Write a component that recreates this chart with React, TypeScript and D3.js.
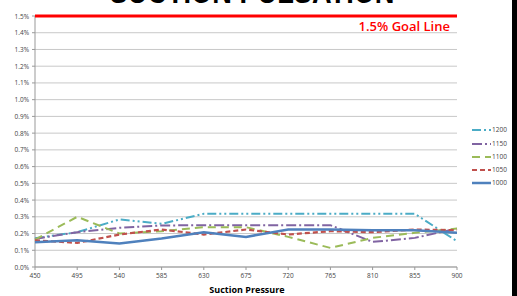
import React from 'react';
import * as d3 from 'd3';

const W = 517;
const H = 296;

const pressures = [450, 495, 540, 585, 630, 675, 720, 765, 810, 855, 900];
const yTicks = [0, 0.1, 0.2, 0.3, 0.4, 0.5, 0.6, 0.7, 0.8, 0.9, 1.0, 1.1, 1.2, 1.3, 1.4, 1.5];
const goalValue = 1.5;

// pulsation % per suction pressure
const s1200 = [0.172, 0.208, 0.284, 0.258, 0.318, 0.318, 0.318, 0.318, 0.318, 0.318, 0.154];
const s1150 = [0.168, 0.208, 0.234, 0.248, 0.25, 0.25, 0.25, 0.25, 0.15, 0.174, 0.23];
const s1100 = [0.164, 0.3, 0.2, 0.214, 0.238, 0.238, 0.18, 0.114, 0.174, 0.204, 0.23];
const s1050 = [0.16, 0.144, 0.194, 0.224, 0.194, 0.224, 0.194, 0.214, 0.208, 0.224, 0.22];
const s1000 = [0.148, 0.16, 0.14, 0.17, 0.208, 0.18, 0.224, 0.224, 0.22, 0.22, 0.204];

const series = [
  { name: '1200', values: s1200, color: '#4BACC6', dash: '9,3,2,3,2,3', width: 2 },
  { name: '1150', values: s1150, color: '#8064A2', dash: '10,3,2,3', width: 2 },
  { name: '1100', values: s1100, color: '#9BBB59', dash: '8,5', width: 2 },
  { name: '1050', values: s1050, color: '#C0504D', dash: '5,3', width: 2.2 },
  { name: '1000', values: s1000, color: '#4F81BD', dash: '', width: 2.5 },
];

const App: React.FC = () => {
  const x = d3.scaleLinear().domain([450, 900]).range([35, 457]);
  const y = d3.scaleLinear().domain([0, 1.5]).range([267, 16]);

  const line = d3.line<number>()
    .x((_, i) => x(pressures[i]))
    .y(d => y(d));

  return (
    <svg width={W} height={H} style={{ position: 'absolute', left: 0, top: 0, background: '#fff' }}
      fontFamily="'Open Sans', 'Liberation Sans', sans-serif">
      {/* cut-off title */}
      <text x={252} y={3} textAnchor="middle" fontSize={34} fontWeight="bold"
        fontFamily="'Liberation Sans', sans-serif" textLength={285} lengthAdjust="spacingAndGlyphs" fill="#000">
        SUCTION PULSATION
      </text>

      {/* gridlines */}
      {yTicks.map(t => (
        <g key={t}>
          <line x1={x(450)} x2={x(900)} y1={y(t)} y2={y(t)} stroke="#c8c8c8" strokeWidth={1} />
          <line x1={x(450) - 3} x2={x(450)} y1={y(t)} y2={y(t)} stroke="#999" />
          <text x={x(450) - 6} y={y(t) + 2.5} textAnchor="end" fontSize={6.5} fill="#444">
            {t.toFixed(1)}%
          </text>
        </g>
      ))}

      {/* axes */}
      <line x1={x(450)} x2={x(450)} y1={y(0)} y2={y(1.5)} stroke="#999" />
      <line x1={x(450)} x2={x(900)} y1={y(0)} y2={y(0)} stroke="#999" />
      {pressures.map(p => (
        <g key={p}>
          <line x1={x(p)} x2={x(p)} y1={y(0)} y2={y(0) + 3} stroke="#999" />
          <text x={x(p)} y={y(0) + 11} textAnchor="middle" fontSize={6.5} fill="#444">{p}</text>
        </g>
      ))}
      <text x={247} y={293} textAnchor="middle" fontSize={9} fontWeight="bold" fill="#000">
        Suction Pressure
      </text>

      {/* series */}
      {series.map(s => (
        <path key={s.name} d={line(s.values) ?? ''} fill="none" stroke={s.color}
          strokeWidth={s.width} strokeDasharray={s.dash} />
      ))}

      {/* goal line */}
      <line x1={x(450)} x2={x(900)} y1={y(goalValue)} y2={y(goalValue)} stroke="#FF0000" strokeWidth={3} />
      <text x={450} y={31} textAnchor="end" fontSize={13} fill="#FF0000"
        fontFamily="'Open Sans', sans-serif" fontWeight={600}>
        1.5% Goal Line
      </text>

      {/* legend */}
      {series.map((s, i) => {
        const ly = [130, 144, 157, 170, 183][i];
        return (
          <g key={s.name}>
            <line x1={472} x2={491} y1={ly} y2={ly} stroke={s.color} strokeWidth={s.width}
              strokeDasharray={s.dash} />
            <text x={492} y={ly + 2.3} fontSize={6.5} fill="#444">{s.name}</text>
          </g>
        );
      })}

      {/* black edge */}
      <rect x={512} y={0} width={5} height={H} fill="#000" />
    </svg>
  );
};

export default App;
